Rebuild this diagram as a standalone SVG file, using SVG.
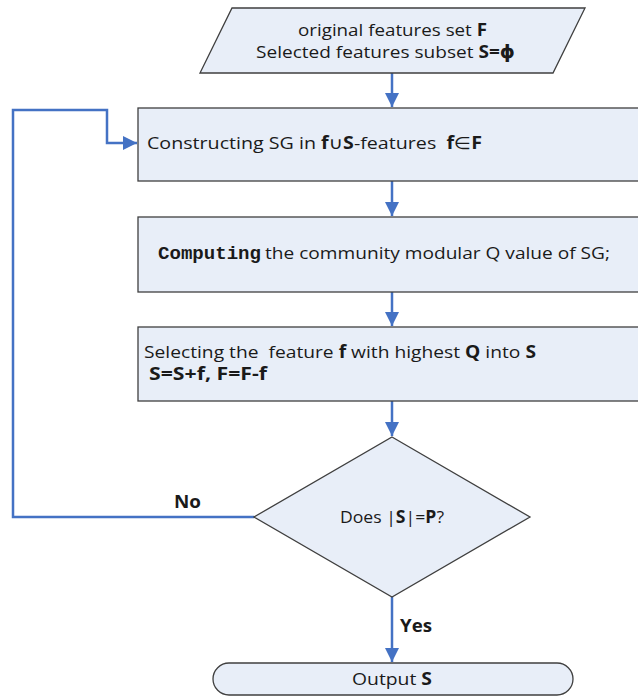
<svg xmlns="http://www.w3.org/2000/svg" width="638" height="696" viewBox="0 0 638 696">
<style>
.shape{fill:#e8eef8;stroke:#3f3f3f;stroke-width:1.3}
.t{font-family:"Open Sans","DejaVu Sans",sans-serif;font-size:17px;fill:#1a1a1a}
.b{font-weight:bold}
.mono{font-family:"Liberation Mono","DejaVu Sans Mono",monospace;font-size:18px;font-weight:bold;fill:#1a1a1a}
.conn{fill:none;stroke:#4472c4;stroke-width:2.5}
</style>
<defs>
<marker id="arr" markerUnits="userSpaceOnUse" markerWidth="14" markerHeight="14" viewBox="0 0 14 14" refX="14" refY="7" orient="auto">
<path d="M0,0 L14,7 L0,14 Z" fill="#4472c4"/>
</marker>
</defs>
<g id="connectors">
<path class="conn" d="M392,73 V107" marker-end="url(#arr)"/>
<path class="conn" d="M392,181 V216" marker-end="url(#arr)"/>
<path class="conn" d="M392,292 V326" marker-end="url(#arr)"/>
<path class="conn" d="M392,401 V436" marker-end="url(#arr)"/>
<path class="conn" d="M392,597 V662" marker-end="url(#arr)"/>
<path class="conn" d="M254,517 H13 V110 H107 V143 H137" marker-end="url(#arr)"/>
<text class="t b" x="174" y="508" textLength="27" lengthAdjust="spacingAndGlyphs">No</text>
<text class="t b" x="400" y="632" textLength="32" lengthAdjust="spacingAndGlyphs">Yes</text>
</g>
<g id="input">
<polygon class="shape" points="232,8 585,8 553,73 200,73"/>
<text class="t" x="298" y="36" textLength="189" lengthAdjust="spacingAndGlyphs">original features set <tspan class="b">F</tspan></text>
<text class="t" x="256" y="58" textLength="259" lengthAdjust="spacingAndGlyphs">Selected features subset <tspan class="b">S=ϕ</tspan></text>
</g>
<g id="construct">
<rect class="shape" x="138" y="108" width="520" height="73"/>
<text class="t" x="147" y="149" textLength="335" lengthAdjust="spacingAndGlyphs">Constructing SG in <tspan class="b">f</tspan>∪<tspan class="b">S</tspan>-features&#160; <tspan class="b">f</tspan>∈<tspan class="b">F</tspan></text>
</g>
<g id="compute">
<rect class="shape" x="138" y="217" width="520" height="75"/>
<text class="mono" x="158" y="259" textLength="103" lengthAdjust="spacingAndGlyphs">Computing</text>
<text class="t" x="265" y="259" textLength="345" lengthAdjust="spacingAndGlyphs">the community modular Q value of SG;</text>
</g>
<g id="select">
<rect class="shape" x="138" y="327" width="520" height="74"/>
<text class="t" x="144" y="358" textLength="392" lengthAdjust="spacingAndGlyphs">Selecting the&#160; feature <tspan class="b">f</tspan> with highest <tspan class="b">Q</tspan> into <tspan class="b">S</tspan></text>
<text class="t b" x="149" y="380" textLength="118" lengthAdjust="spacingAndGlyphs">S=S+f, F=F-f</text>
</g>
<g id="decision">
<polygon class="shape" points="392,437 530,517 392,597 254,517"/>
<text class="t" x="340" y="523" textLength="104" lengthAdjust="spacingAndGlyphs">Does |<tspan class="b">S</tspan>|=<tspan class="b">P</tspan>?</text>
</g>
<g id="output">
<rect class="shape" x="213" y="663" width="360" height="32" rx="16" ry="16"/>
<text class="t" x="352" y="685" textLength="80" lengthAdjust="spacingAndGlyphs">Output <tspan class="b">S</tspan></text>
</g>
</svg>
